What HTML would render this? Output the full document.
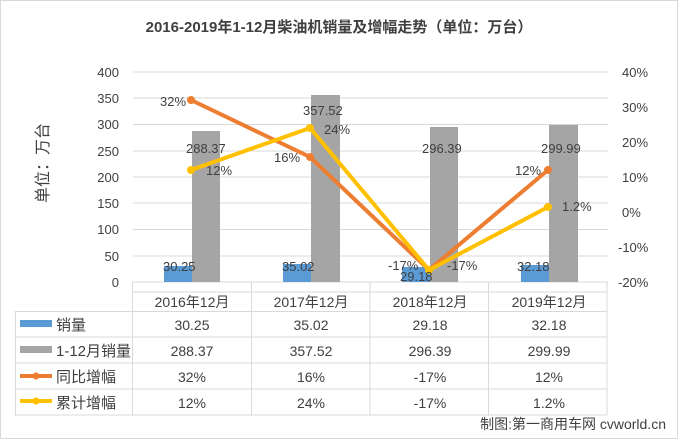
<!DOCTYPE html><html><head><meta charset="utf-8"><style>
body{margin:0;background:#fff;}
svg text{font-family:"Liberation Sans","Noto Sans CJK SC",sans-serif;fill:#404040;}
</style></head><body>
<svg width="678" height="439" viewBox="0 0 678 439" xmlns="http://www.w3.org/2000/svg">
<rect x="0.5" y="0.5" width="677" height="438" fill="#fff" stroke="#d9d9d9"/>
<text x="339" y="32" text-anchor="middle" font-size="15" font-weight="bold" fill="#404040">2016-2019年1-12月柴油机销量及增幅走势（单位：万台）</text>
<text transform="translate(48,163) rotate(-90)" text-anchor="middle" font-size="16" fill="#595959">单位：万台</text>
<g stroke="#d9d9d9" stroke-width="1">
<line x1="133" x2="608" y1="72" y2="72"/><line x1="133" x2="608" y1="98" y2="98"/><line x1="133" x2="608" y1="124.5" y2="124.5"/><line x1="133" x2="608" y1="151" y2="151"/><line x1="133" x2="608" y1="177" y2="177"/><line x1="133" x2="608" y1="203" y2="203"/><line x1="133" x2="608" y1="229.5" y2="229.5"/><line x1="133" x2="608" y1="256" y2="256"/><line x1="133" x2="608" y1="282" y2="282"/>
</g>
<g font-size="13" text-anchor="end">
<text x="119" y="77">400</text><text x="119" y="103">350</text><text x="119" y="129">300</text><text x="119" y="156">250</text><text x="119" y="182">200</text><text x="119" y="208">150</text><text x="119" y="234">100</text><text x="119" y="261">50</text><text x="119" y="287">0</text>
</g>
<g font-size="13" text-anchor="start">
<text x="622" y="77">40%</text><text x="622" y="112">30%</text><text x="622" y="147">20%</text><text x="622" y="182">10%</text><text x="622" y="217">0%</text><text x="618" y="252">-10%</text><text x="618" y="287">-20%</text>
</g>
<g fill="#5b9bd5">
<rect x="164" y="266" width="28" height="16"/><rect x="283" y="264" width="28" height="18"/><rect x="402" y="267" width="28" height="15"/><rect x="521" y="265" width="28" height="17"/>
</g>
<g fill="#a5a5a5">
<rect x="192" y="131" width="28" height="151"/><rect x="311" y="95" width="29" height="187"/><rect x="430" y="127" width="28" height="155"/><rect x="549" y="125" width="29" height="157"/>
</g>
<polyline points="191,100 310,157 429,270 548,170" fill="none" stroke="#ed7d31" stroke-width="4"/>
<polyline points="191,170 310,128 429,270 548,207" fill="none" stroke="#ffc000" stroke-width="4"/>
<g fill="#ed7d31"><circle cx="191" cy="100" r="4"/><circle cx="310" cy="157" r="4"/><circle cx="548" cy="170" r="4"/></g>
<g fill="#ffc000"><circle cx="191" cy="170" r="4"/><circle cx="310" cy="128" r="4"/><circle cx="429" cy="270" r="4"/><circle cx="548" cy="207" r="4"/></g>
<g font-size="13">
<text x="160" y="106">32%</text><text x="186" y="153">288.37</text><text x="206" y="175">12%</text>
<text x="274" y="162">16%</text><text x="303" y="115">357.52</text><text x="324" y="134">24%</text>
<text x="422" y="153">296.39</text><text x="388" y="270">-17%</text><text x="447" y="270">-17%</text><text x="400" y="281">29.18</text>
<text x="541" y="153">299.99</text><text x="515" y="175">12%</text><text x="562" y="211">1.2%</text>
<text x="163" y="271">30.25</text><text x="282" y="271">35.02</text><text x="517" y="271">32.18</text>
</g>
<g stroke="#d9d9d9" stroke-width="1" fill="none">
<line x1="132" y1="292" x2="607" y2="292"/>
<line x1="15" y1="311.5" x2="607" y2="311.5"/><line x1="15" y1="337" x2="607" y2="337"/><line x1="15" y1="363" x2="607" y2="363"/><line x1="15" y1="389" x2="607" y2="389"/><line x1="15" y1="415" x2="607" y2="415"/>
<line x1="15.5" y1="311" x2="15.5" y2="415"/><line x1="132.5" y1="282" x2="132.5" y2="415"/><line x1="251.5" y1="282" x2="251.5" y2="415"/><line x1="370" y1="282" x2="370" y2="415"/><line x1="488.5" y1="282" x2="488.5" y2="415"/><line x1="607" y1="282" x2="607" y2="415"/>
</g>
<g font-size="14" text-anchor="middle">
<text x="192" y="307">2016年12月</text><text x="311" y="307">2017年12月</text><text x="430" y="307">2018年12月</text><text x="549" y="307">2019年12月</text>
<text x="192" y="330">30.25</text><text x="311" y="330">35.02</text><text x="430" y="330">29.18</text><text x="549" y="330">32.18</text>
<text x="192" y="356">288.37</text><text x="311" y="356">357.52</text><text x="430" y="356">296.39</text><text x="549" y="356">299.99</text>
<text x="192" y="382">32%</text><text x="311" y="382">16%</text><text x="430" y="382">-17%</text><text x="549" y="382">12%</text>
<text x="192" y="408">12%</text><text x="311" y="408">24%</text><text x="430" y="408">-17%</text><text x="549" y="408">1.2%</text>
</g>
<rect x="20" y="320" width="32" height="7" fill="#5b9bd5"/>
<rect x="20" y="346" width="32" height="7" fill="#a5a5a5"/>
<line x1="20" y1="376" x2="52" y2="376" stroke="#ed7d31" stroke-width="4"/><circle cx="36" cy="376" r="3.5" fill="#ed7d31"/>
<line x1="20" y1="401" x2="52" y2="401" stroke="#ffc000" stroke-width="4"/><circle cx="36" cy="401" r="3.5" fill="#ffc000"/>
<g font-size="15">
<text x="56" y="330">销量</text><text x="56" y="356">1-12月销量</text><text x="56" y="382">同比增幅</text><text x="56" y="408">累计增幅</text>
</g>
<text x="666" y="429" text-anchor="end" font-size="14" fill="#262626">制图:第一商用车网 cvworld.cn</text>
</svg>
</body></html>
